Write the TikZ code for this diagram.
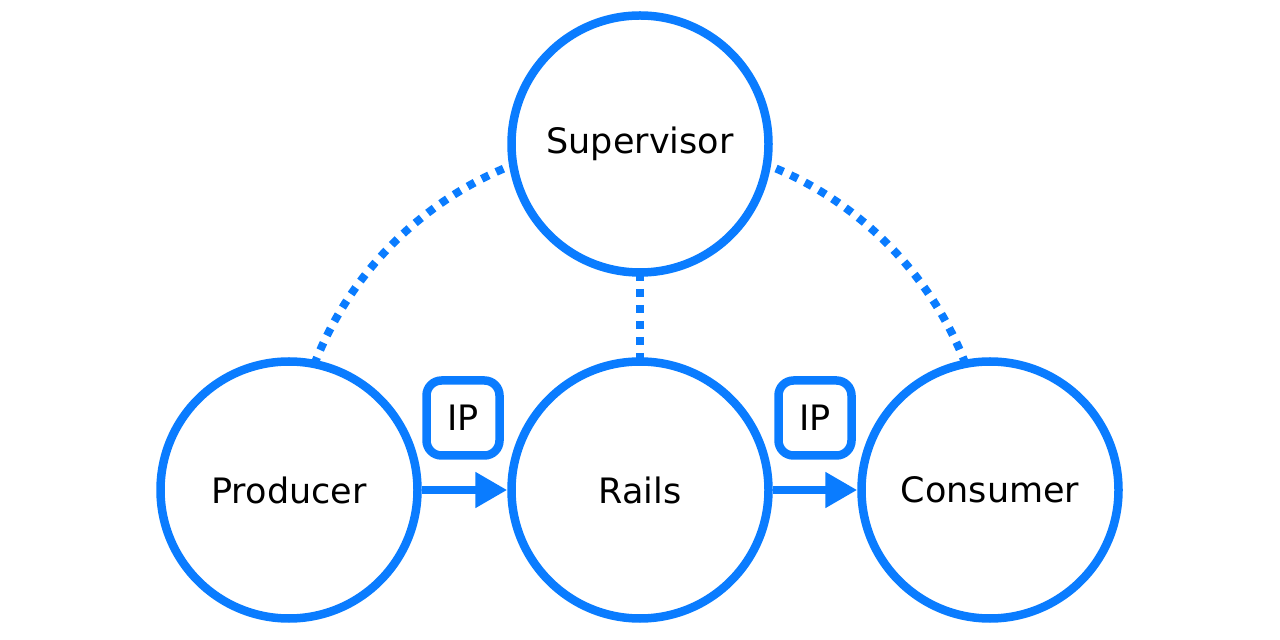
\documentclass[tikz,border=0pt]{standalone}
\usepackage{fontspec}
\setmainfont{DejaVu Sans}
\usetikzlibrary{arrows.meta}
\definecolor{blu}{HTML}{0A7CFF}
\begin{document}
\begin{tikzpicture}[x=1pt,y=1pt,
  proc/.style={circle,draw=blu,line width=8.5pt,fill=white,minimum size=257pt,inner sep=0pt,font=\fontsize{35}{40}\selectfont},
  ipbox/.style={draw=blu,line width=8.5pt,rounded corners=15pt,fill=white,minimum width=73pt,minimum height=75pt,inner sep=0pt,font=\fontsize{35}{40}\selectfont},
  dotline/.style={draw=blu,line width=8pt,dash pattern=on 8pt off 8pt},
  flow/.style={draw=blu,line width=8pt,-{Triangle[length=32pt,width=34pt]}}]
\useasboundingbox (0,0) rectangle (1280,640);
\coordinate (rc) at (640,150);
\draw[dotline] (rc) ++(180:349) arc[start angle=180,end angle=0,radius=349];
\draw[dotline] (640,495) -- (rc);
\node[proc] (sup) at (640,496) {Supervisor};
\node[proc] (prod) at (289,150) {Producer};
\node[proc] (rails) at (640,150) {Rails};
\node[proc] (cons) at (990,150) {Consumer};
\node[ipbox] (ip1) at (463,222) {IP};
\node[ipbox] (ip2) at (815,222) {IP};
\draw[flow] (prod) -- (rails);
\draw[flow] (rails) -- (cons);
\end{tikzpicture}
\end{document}
